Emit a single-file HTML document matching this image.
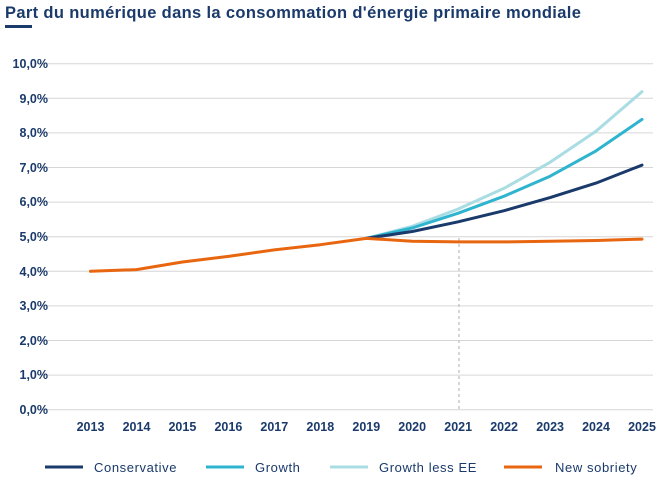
<!DOCTYPE html>
<html><head><meta charset="utf-8"><style>
body{margin:0;background:#fff;}
svg{display:block;font-family:"Liberation Sans",sans-serif;}
</style></head><body>
<svg width="668" height="481" viewBox="0 0 668 481">
<text x="5" y="18" font-size="16.5" font-weight="bold" fill="#1a3a6b" letter-spacing="0.35">Part du numérique dans la consommation d'énergie primaire mondiale</text>
<rect x="5" y="25" width="27" height="3" fill="#1a3a6b"/>
<g stroke="#d6d6d6" stroke-width="1">
<line x1="41" x2="653" y1="63.7" y2="63.7"/><line x1="41" x2="653" y1="98.3" y2="98.3"/>
<line x1="41" x2="653" y1="132.9" y2="132.9"/><line x1="41" x2="653" y1="167.5" y2="167.5"/>
<line x1="41" x2="653" y1="202.1" y2="202.1"/><line x1="41" x2="653" y1="236.7" y2="236.7"/>
<line x1="41" x2="653" y1="271.3" y2="271.3"/><line x1="41" x2="653" y1="305.9" y2="305.9"/>
<line x1="41" x2="653" y1="340.5" y2="340.5"/><line x1="41" x2="653" y1="375.1" y2="375.1"/>
<line x1="41" x2="653" y1="409.7" y2="409.7"/>
</g>
<line x1="459" x2="459" y1="238" y2="409" stroke="#c8c8c8" stroke-width="1.5" stroke-dasharray="3,3"/>
<g font-size="12.5" font-weight="bold" fill="#1a3a6b" text-anchor="end">
<text x="48" y="68">10,0%</text><text x="48" y="103">9,0%</text><text x="48" y="137">8,0%</text>
<text x="48" y="172">7,0%</text><text x="48" y="206">6,0%</text><text x="48" y="241">5,0%</text>
<text x="48" y="276">4,0%</text><text x="48" y="310">3,0%</text><text x="48" y="345">2,0%</text>
<text x="48" y="379">1,0%</text><text x="48" y="414">0,0%</text>
</g>
<g font-size="12.5" font-weight="bold" fill="#1a3a6b" text-anchor="middle">
<text x="90.5" y="431">2013</text><text x="136.5" y="431">2014</text><text x="182.4" y="431">2015</text>
<text x="228.4" y="431">2016</text><text x="274.3" y="431">2017</text><text x="320.3" y="431">2018</text>
<text x="366.3" y="431">2019</text><text x="412.2" y="431">2020</text><text x="458.2" y="431">2021</text>
<text x="504.1" y="431">2022</text><text x="550.1" y="431">2023</text><text x="596" y="431">2024</text>
<text x="642" y="431">2025</text>
</g>
<g fill="none" stroke-width="3" stroke-linejoin="round" stroke-linecap="round">
<polyline stroke="#a9dde3" points="366.3,238.4 412.2,226.3 458.2,209.0 504.1,188.3 550.1,162.3 596,131.2 642,91.7"/>
<polyline stroke="#2fb4cf" points="366.3,238.4 412.2,228.0 458.2,213.2 504.1,196.2 550.1,176.2 596,150.9 642,119.4"/>
<polyline stroke="#1a3a6b" points="366.3,238.4 412.2,231.5 458.2,221.8 504.1,210.7 550.1,197.6 596,183.1 642,165.1"/>
<polyline stroke="#e8660f" points="90.5,271.3 136.5,269.6 182.4,262.0 228.4,256.4 274.3,249.9 320.3,244.7 366.3,238.4 412.2,241.2 458.2,241.9 504.1,241.9 550.1,241.2 596,240.5 642,239.1"/>
</g>
<g font-size="13" fill="#1a3a6b" letter-spacing="0.6">
<line x1="45" x2="83" y1="467" y2="467" stroke="#1a3a6b" stroke-width="3"/><text x="94" y="472">Conservative</text>
<line x1="206" x2="244" y1="467" y2="467" stroke="#2fb4cf" stroke-width="3"/><text x="255" y="472">Growth</text>
<line x1="330" x2="368" y1="467" y2="467" stroke="#a9dde3" stroke-width="3"/><text x="379" y="472">Growth less EE</text>
<line x1="504" x2="542" y1="467" y2="467" stroke="#e8660f" stroke-width="3"/><text x="555" y="472">New sobriety</text>
</g>
</svg>
</body></html>
